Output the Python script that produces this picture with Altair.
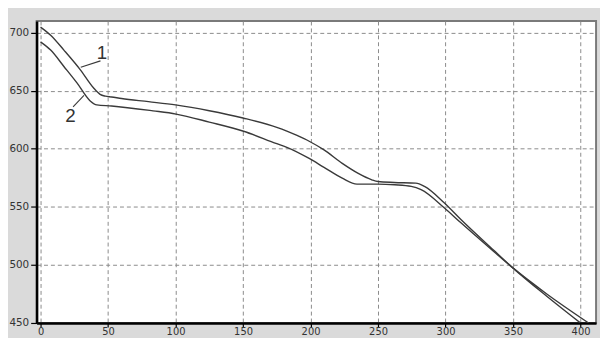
import altair as alt
import pandas as pd

# Curve 1 (upper)
c1_x = [0, 7.5, 17.3, 29.5, 39.2, 44.1, 48, 52.6, 60, 80, 100, 125, 150, 175, 182, 190, 199, 210,
        223.5, 235, 245.4, 250, 262, 278, 284.4, 299, 311.2, 335.5, 349, 375, 399.6]
c1_y = [704.8, 697.8, 685, 668, 652.5, 646.9, 645.3, 644.6, 643.3, 640.6, 637.8, 632.8, 626.5, 618.5,
        615.5, 611.5, 606.5, 599, 587.4, 579, 573.3, 571.8, 571, 570.4, 567.6, 553.5, 539.3, 512.8,
        498.3, 473, 450.3]

# Curve 2 (lower)
c2_x = [0, 7.5, 17.3, 27, 36.8, 41.7, 52.6, 83.3, 100.4, 125, 150.4, 175, 182, 199, 210, 223.5,
        234.4, 250, 262.4, 274.6, 281.9, 299, 311.2, 335.5, 349, 375, 406]
c2_y = [692.1, 685, 670.9, 656.7, 641.2, 637.8, 636.9, 632.7, 629.9, 623, 615.1, 604.4, 601.5,
        591.7, 584, 574.7, 569.6, 569.6, 569, 567.6, 564.8, 549.2, 536.5, 511.8, 498.3, 475, 450]

# Annotations
lab_text = ["1", "2"]
lab_x = [45.5, 22.2]
lab_y = [682.2, 628.4]
lead_x = [29.8, 32.2]
lead_y = [670.3, 646.0]
lead_x2 = [44.4, 24.1]
lead_y2 = [675.7, 636.1]

x_ticks = [0, 50, 100, 150, 200, 250, 300, 350, 400]
y_ticks = [450, 500, 550, 600, 650, 700]

df = pd.concat([
    pd.DataFrame({"x": c1_x, "y": c1_y, "s": "1"}),
    pd.DataFrame({"x": c2_x, "y": c2_y, "s": "2"}),
])
lab = pd.DataFrame({"t": lab_text, "x": lab_x, "y": lab_y})
lead = pd.DataFrame({"x": lead_x, "y": lead_y, "x2": lead_x2, "y2": lead_y2})

xs = alt.Scale(domain=[-2.9, 411.5], nice=False, zero=False)
ys = alt.Scale(domain=[450, 710], nice=False, zero=False)

xaxis = alt.Axis(values=x_ticks, title=None, grid=True, gridDash=[4, 3], gridColor="#8a8a8a",
                 gridWidth=1, gridOpacity=1, domainColor="#000000", domainWidth=2.5,
                 tickColor="#000000", tickSize=4, tickWidth=1.2, labelFont="DejaVu Sans",
                 labelFontSize=10, labelColor="#333333", labelPadding=0)
yaxis = alt.Axis(values=y_ticks, title=None, grid=True, gridDash=[4, 3], gridColor="#8a8a8a",
                 gridWidth=1, gridOpacity=1, domainColor="#000000", domainWidth=2.5,
                 tickColor="#000000", tickSize=6, tickWidth=1.2, labelFont="DejaVu Sans",
                 labelFontSize=10.5, labelColor="#333333", labelPadding=2)

lines = alt.Chart(df).mark_line(color="#3a3a3a", strokeWidth=1.4, clip=True,
                                interpolate="monotone").encode(
    x=alt.X("x:Q", scale=xs, axis=xaxis),
    y=alt.Y("y:Q", scale=ys, axis=yaxis),
    detail="s:N",
)

leaders = alt.Chart(lead).mark_rule(color="#3a3a3a", strokeWidth=1.1).encode(
    x="x:Q", y="y:Q", x2="x2:Q", y2="y2:Q"
)

labels = alt.Chart(lab).mark_text(font="Liberation Sans", fontSize=19, color="#333333",
                                   align="center", baseline="middle").encode(
    x="x:Q", y="y:Q", text="t:N"
)

chart = alt.layer(lines, leaders, labels).properties(
    width=567, height=306,
    autosize=alt.AutoSizeParams(type="none"),
    padding={"left": 29, "top": 11, "right": 4, "bottom": 13},
    background="#dadada",
).configure_view(
    fill="#ffffff", stroke="#7a7a7a", strokeWidth=2
)

chart.save("out.html", embed_options={"renderer": "svg", "actions": False})
